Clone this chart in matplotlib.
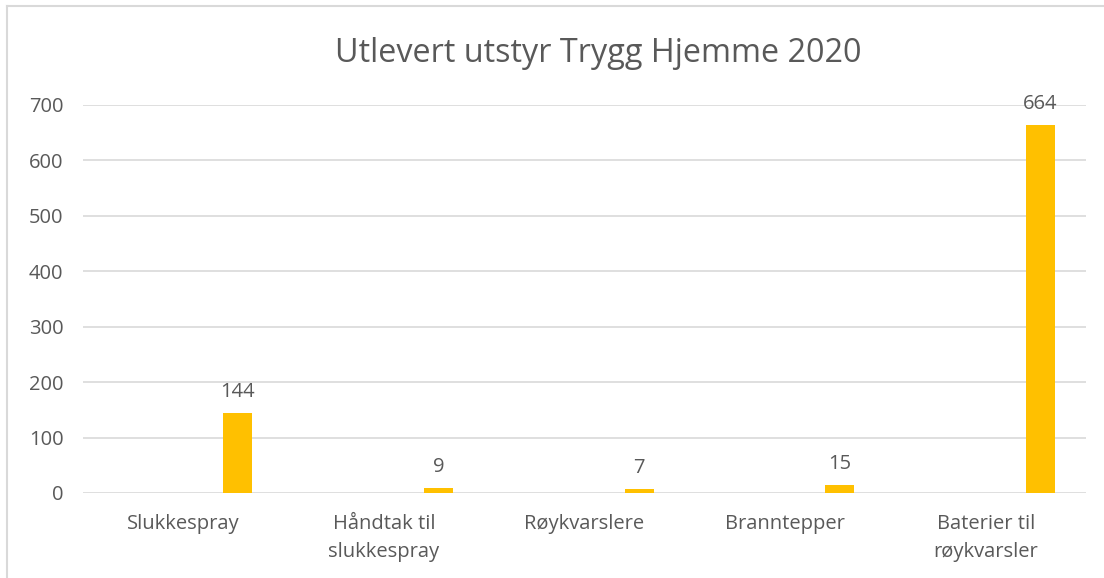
import matplotlib.pyplot as plt
import numpy as np
from matplotlib.lines import Line2D

categories = ['Slukkespray', 'Håndtak til\nslukkespray', 'Røykvarslere',
              'Branntepper', 'Baterier til\nrøykvarsler']
values = [144, 9, 7, 15, 664]
y_ticks = [0, 100, 200, 300, 400, 500, 600, 700]

text_color = '#595959'
grid_color = '#D9D9D9'
bar_color = '#FFC000'

plt.rcParams['font.family'] = ['Open Sans', 'DejaVu Sans']

fig = plt.figure(figsize=(11.04, 5.78), dpi=100)
ax = fig.add_axes([83 / 1104, 1 - 493 / 578, (1086 - 83) / 1104, (493 - 105) / 578])

x = np.arange(len(categories))
# the bar sits right of centre, like the last series of an Excel cluster
bars = ax.bar(x + 0.272, values, width=0.145, color=bar_color, zorder=3)

for b, v in zip(bars, values):
    ax.annotate(str(v), (b.get_x() + b.get_width() / 2, v),
                xytext=(0, 8), textcoords='offset points',
                ha='center', va='bottom', fontsize=14.5, color=text_color)

ax.set_xlim(-0.5, len(categories) - 0.5)
ax.set_ylim(0, 700)
ax.set_yticks(y_ticks)
ax.set_xticks(x)
ax.set_xticklabels(categories, linespacing=1.55)
ax.tick_params(axis='both', length=0, labelsize=14.5, labelcolor=text_color)
ax.tick_params(axis='y', pad=14)
ax.tick_params(axis='x', pad=15)
ax.grid(axis='y', color=grid_color, linewidth=1.2, zorder=0)
for s in ax.spines.values():
    s.set_visible(False)

fig.text(598 / 1104, 1 - 53 / 578, 'Utlevert utstyr Trygg Hjemme 2020',
         ha='center', va='center', fontsize=23.3, color=text_color)

# chart area border (only top and left show in the crop)
fig.add_artist(Line2D([7 / 1104, 7 / 1104], [0, 1 - 6 / 578],
                      transform=fig.transFigure, color=grid_color, lw=1.5))
fig.add_artist(Line2D([7 / 1104, 1], [1 - 6 / 578, 1 - 6 / 578],
                      transform=fig.transFigure, color=grid_color, lw=1.5))

fig.savefig('out.png', dpi=100)
